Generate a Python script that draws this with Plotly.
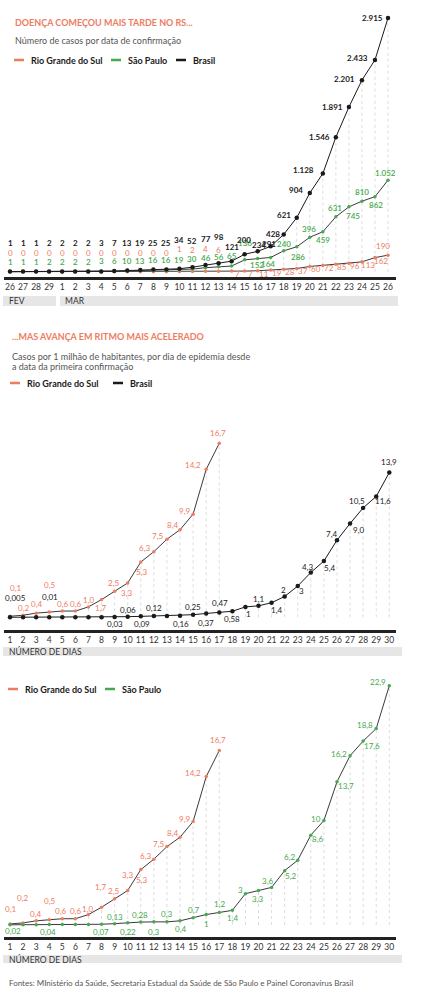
import plotly.graph_objects as go

W, H = 421, 1000
FONT = "Lato"
SALMAO = "#ee7c5f"
VERDE = "#45a94d"
PRETO = "#1a1a1a"
LINHA = "#3a3a3a"
CINZA_TXT = "#555555"
FAIXA = "#e6e6e6"

# ---- grafico 1: casos por data de confirmacao ----
datas = ["26", "27", "28", "29", "1", "2", "3", "4", "5", "6", "7", "8", "9", "10",
         "11", "12", "13", "14", "15", "16", "17", "18", "19", "20", "21", "22",
         "23", "24", "25", "26"]
brasil_casos = [1, 1, 1, 2, 2, 2, 2, 3, 7, 13, 19, 25, 25, 34, 52, 77, 98, 121, 200,
                234, 291, 428, 621, 904, 1128, 1546, 1891, 2201, 2433, 2915]
sp_casos = [1, 1, 1, 2, 2, 2, 2, 3, 6, 10, 13, 16, 16, 19, 30, 46, 56, 65, 136, 152,
            164, 240, 286, 396, 459, 631, 745, 810, 862, 1052]
rs_casos = [0, 0, 0, 0, 0, 0, 0, 0, 0, 0, 0, 0, 0, 1, 2, 4, 6, 7, 7, 11, 19, 28, 37,
            60, 72, 85, 96, 113, 162, 190]

# ---- graficos 2 e 3: casos por 1 milhao de habitantes ----
dias = list(range(1, 31))
rs_milhao = [0.1, 0.2, 0.4, 0.5, 0.6, 0.6, 1.0, 1.7, 2.5, 3.3, 5.3, 6.3, 7.5, 8.4,
             9.9, 14.2, 16.7]
brasil_milhao = [0.005, 0.005, 0.005, 0.01, 0.01, 0.01, 0.01, 0.014, 0.03, 0.06, 0.09,
                 0.12, 0.12, 0.16, 0.25, 0.37, 0.47, 0.58, 1, 1.1, 1.4, 2, 3, 4.3, 5.4,
                 7.4, 9.0, 10.5, 11.6, 13.9]
sp_milhao = [0.02, 0.02, 0.02, 0.04, 0.04, 0.04, 0.04, 0.07, 0.13, 0.22, 0.28, 0.3,
             0.3, 0.4, 0.7, 1, 1.2, 1.4, 3, 3.3, 3.6, 5.2, 6.2, 8.6, 10, 13.7, 16.2,
             17.6, 18.8, 22.9]

# posicao dos rotulos: (ancora, dx, dy) em px; 'row' = linha fixa em y px
pos_br1 = [("row", 0, 243)] * 13 + [("row", 0, 240), ("row", 0, 241), ("row", 0, 239),
           ("row", 0, 237), ("c", 0, -14), ("c", -1, -14), ("c", 1, -6),
           ("c", -2, -2), ("r", -2, 0), ("r", -4, -3), ("r", -5, -3), ("r", -7, -4),
           ("r", -4, 0), ("r", -4, 0), ("r", -5, -1), ("r", -5, -2), ("r", -3, 0)]
pos_sp1 = [("c", 0, -10)] * 18 + [("c", 0, -17), ("c", -1, 7), ("c", -3, 7),
           ("c", 0, -7), ("c", 1, 10), ("c", -1, -8), ("c", 0, 8), ("c", -1, -9),
           ("c", 4, 9), ("c", 0, -9), ("c", 1, 8), ("c", -3, -7)]
pos_rs1 = ([("row", 0, 252.5)] * 13 + [("row", 0, 249.5)] * 4 + [("c", 6, 3)] * 12
           + [("c", -5, -9)])

pos_rs2 = [("c", 5, -28), ("c", 0, -7), ("c", 0, -9), ("c", 0, -27), ("c", 0, -7),
           ("c", 0, -7), ("c", 0, -7), ("c", -1, 8), ("c", -1, -8), ("c", -1, 10),
           ("c", 1, 10), ("c", -9, -4), ("c", -9, -3), ("c", -8, -5), ("c", -9, -3),
           ("c", -13, -4), ("c", -1, -10)]
pos_br2 = [("c", 5, -19), None, None, ("c", 1, -20), None, None, None, None,
           ("c", 0, 7), ("c", 0, -7), ("c", 1, 8), ("c", 0, -8), None, ("c", 1, 8),
           ("c", 0, -8), ("c", 0, 10), ("c", 1, -9), ("c", 0, 8), ("c", 3, 7),
           ("c", 0, -7), ("c", 5, 7), ("c", -1, -6), ("c", 4, 5), ("c", -3, -5),
           ("c", 6, 7), ("c", -5, -6), ("c", 8, 6), ("c", -6, -7), ("c", 7, 5),
           ("c", 0, -10)]
pos_sp3 = [("c", 3, 6), None, None, ("c", -1, 7), None, None, None, ("c", -1, 8),
           ("c", 0, -7), ("c", 0, 9), ("c", -1, -7), ("c", 0, 10), ("c", 0, -8),
           ("c", 0, 8), ("c", 0, -8), ("c", 0, 9), ("c", 0, -8), ("c", 0, 8),
           ("c", -5, -4), ("c", -1, 8), ("c", -4, -6), ("c", 6, 5), ("c", -8, -3),
           ("c", 7, 4), ("c", -8, -2), ("c", 9, 4), ("c", -11, -2), ("c", 9, 5),
           ("c", -11, -4), ("c", -11, -4)]
pos_rs3 = [("c", 0, -15), ("c", -1, -25), ("c", -1, -7), ("c", 0, -19), ("c", -2, -8),
           ("c", 0, -8), ("c", -1, -6), ("c", -1, -20), ("c", -1, -8), ("c", 0, -16),
           ("c", 1, 10), ("c", -8, -3), ("c", -8, -3), ("c", -8, -4), ("c", -9, -3),
           ("c", -13, -4), ("c", -1, -10)]

# geometria de cada painel (px): x do primeiro/ultimo ponto, linha zero, px por unidade
paineis = {
    1: dict(x0=10, x1=388, n=30, first=0, zero=271.7, k=253.7 / 2915, top=8, base=276.7),
    2: dict(x0=10, x1=389.3, n=30, first=1, zero=617.3, k=10.42, top=420, base=630),
    3: dict(x0=10, x1=389.3, n=30, first=1, zero=925, k=10.45, top=675, base=937.3),
}
DOM_X = (4, 396)
TAM_ROT = 8

fig = go.Figure()
annots = []
shapes = []


def fmt_mil(v):
    return f"{v:,}".replace(",", ".")


def fmt_dec(v):
    return str(v).replace(".", ",")


def ypx(p, v):
    g = paineis[p]
    return g["zero"] - v * g["k"]


def rotulos(p, xs, ys, pos, cor, fmt, peso):
    ax = "" if p == 1 else str(p)
    for x, y, ps in zip(xs, ys, pos):
        if ps is None:
            continue
        anc, dx, dy = ps
        if anc == "row":
            dy = dy - ypx(p, y)
            anc = "c"
        annots.append(dict(
            x=x, y=y, xref="x" + ax, yref="y" + ax, text=fmt(y), showarrow=False,
            xanchor="right" if anc == "r" else "center", yanchor="middle",
            xshift=dx, yshift=-dy,
            font=dict(family=FONT, size=TAM_ROT, color=cor, weight=peso)))


def serie(p, xs, ys, cor_marca, tam):
    ax = "" if p == 1 else str(p)
    fig.add_trace(go.Scatter(
        x=xs, y=ys, mode="lines+markers", xaxis="x" + ax, yaxis="y" + ax,
        line=dict(color=LINHA if cor_marca != PRETO else PRETO, width=1),
        marker=dict(color=cor_marca, size=tam), showlegend=False, hoverinfo="skip"))


def linhas_guia(p, xs, listas):
    ax = "" if p == 1 else str(p)
    gx, gy = [], []
    for i, x in enumerate(xs):
        vals = [l[i] for l in listas if i < len(l)]
        gx += [x, x, None]
        gy += [0, max(vals), None]
    fig.add_trace(go.Scatter(
        x=gx, y=gy, mode="lines", xaxis="x" + ax, yaxis="y" + ax,
        line=dict(color="#dddddd", width=1, dash="dot"),
        showlegend=False, hoverinfo="skip"))


idx = list(range(30))

# painel 1
linhas_guia(1, idx, [brasil_casos, sp_casos, rs_casos])
serie(1, idx, rs_casos, SALMAO, 3.5)
serie(1, idx, sp_casos, VERDE, 3.5)
serie(1, idx, brasil_casos, PRETO, 4.5)
rotulos(1, idx, rs_casos, pos_rs1, SALMAO, fmt_mil, 400)
rotulos(1, idx, sp_casos, pos_sp1, VERDE, fmt_mil, 600)
rotulos(1, idx, brasil_casos, pos_br1, PRETO, fmt_mil, 700)

# painel 2
linhas_guia(2, dias, [brasil_milhao, rs_milhao])
serie(2, dias[:len(rs_milhao)], rs_milhao, SALMAO, 3.5)
serie(2, dias, brasil_milhao, PRETO, 4.5)
rotulos(2, dias, rs_milhao, pos_rs2, SALMAO, fmt_dec, 400)
rotulos(2, dias, brasil_milhao, pos_br2, PRETO, fmt_dec, 400)

# painel 3
linhas_guia(3, dias, [sp_milhao, rs_milhao])
serie(3, dias[:len(rs_milhao)], rs_milhao, SALMAO, 3.5)
serie(3, dias, sp_milhao, VERDE, 3.5)
rotulos(3, dias, rs_milhao, pos_rs3, SALMAO, fmt_dec, 400)
rotulos(3, dias, sp_milhao, pos_sp3, VERDE, fmt_dec, 400)

# eixos
lay = {}
for p, g in paineis.items():
    ax = "" if p == 1 else str(p)
    step = (g["x1"] - g["x0"]) / (g["n"] - 1)
    r0 = g["first"] - (g["x0"] - DOM_X[0]) / step
    r1 = r0 + (DOM_X[1] - DOM_X[0]) / step
    if p == 1:
        tv, tt = idx, datas
    else:
        tv, tt = dias, [str(d) for d in dias]
    lay["xaxis" + ax] = dict(
        domain=[DOM_X[0] / W, DOM_X[1] / W], range=[r0, r1], anchor="y" + ax,
        tickvals=tv, ticktext=tt, showgrid=False, zeroline=False,
        showline=True, linecolor="#222222", linewidth=2.5, ticks="",
        tickfont=dict(family=FONT, size=8.5, color="#333333"), fixedrange=True)
    lay["yaxis" + ax] = dict(
        domain=[1 - g["base"] / H, 1 - g["top"] / H],
        range=[(g["zero"] - g["base"]) / g["k"], (g["zero"] - g["top"]) / g["k"]],
        anchor="x" + ax, visible=False, fixedrange=True)


def texto(x, y, t, size=9, cor=PRETO, peso=400):
    annots.append(dict(x=x / W, y=1 - y / H, xref="paper", yref="paper", text=t,
                       showarrow=False, xanchor="left", yanchor="middle",
                       font=dict(family=FONT, size=size, color=cor, weight=peso)))


def faixa(x0, x1, y0, y1):
    shapes.append(dict(type="rect", xref="paper", yref="paper", x0=x0 / W, x1=x1 / W,
                       y0=1 - y1 / H, y1=1 - y0 / H, fillcolor=FAIXA, line_width=0,
                       layer="below"))


def legenda(y, itens):
    for x, cor, t in itens:
        shapes.append(dict(type="line", xref="paper", yref="paper", x0=x / W,
                           x1=(x + 10) / W, y0=1 - y / H, y1=1 - y / H,
                           line=dict(color=cor, width=2.5)))
        texto(x + 15, y, t, size=9, peso=700)


# titulos e textos
texto(13, 22, "DOENÇA COMEÇOU MAIS TARDE NO RS...", size=9, cor=SALMAO, peso=700)
texto(13, 40, "Número de casos por data de confirmação", size=9, cor=CINZA_TXT)
legenda(60, [(14, SALMAO, "Rio Grande do Sul"), (111, VERDE, "São Paulo"),
             (176, PRETO, "Brasil")])
faixa(3, 56, 296, 306)
faixa(60, 398, 296, 306)
texto(7, 301, "FEV", size=8.5, cor="#333333")
texto(63, 301, "MAR", size=8.5, cor="#333333")

texto(10, 336, "...MAS AVANÇA EM RITMO MAIS ACELERADO", size=9, cor=SALMAO, peso=700)
texto(10, 356, "Casos por 1 milhão de habitantes, por dia de epidemia desde",
      size=9, cor=CINZA_TXT)
texto(10, 366, "a data da primeira confirmação", size=9, cor=CINZA_TXT)
legenda(383, [(10, SALMAO, "Rio Grande do Sul"), (113, PRETO, "Brasil")])
faixa(3, 402, 647, 656)
texto(7, 651.5, "NÚMERO DE DIAS", size=8.5, cor="#333333")

legenda(689, [(8, SALMAO, "Rio Grande do Sul"), (105, VERDE, "São Paulo")])
faixa(3, 402, 955, 963)
texto(7, 959, "NÚMERO DE DIAS", size=8.5, cor="#333333")

texto(7, 983, "Fontes: MInistério da Saúde, Secretaria Estadual da Saúde de São Paulo "
      "e Painel Coronavírus Brasil", size=8, cor=CINZA_TXT)

fig.update_layout(
    width=W, height=H, margin=dict(l=0, r=0, t=0, b=0),
    paper_bgcolor="white", plot_bgcolor="white",
    annotations=annots, shapes=shapes, showlegend=False, **lay)

# tira a margem padrao do body para o grafico ocupar a janela inteira
fig.write_html("out.html", config={"displayModeBar": False},
               post_script="document.body.style.margin = '0';")
